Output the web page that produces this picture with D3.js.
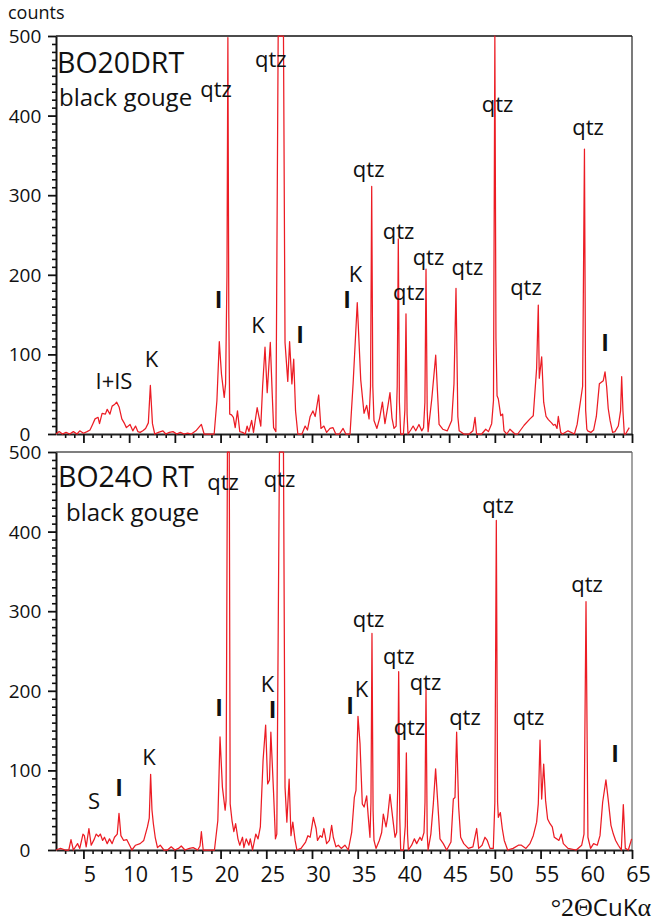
<!DOCTYPE html>
<html><head><meta charset="utf-8">
<script src="https://cdn.jsdelivr.net/npm/d3@7"></script>
<style>
html,body{margin:0;padding:0;background:#fff;}
svg{display:block;}
text{font-family:"Open Sans",sans-serif;fill:#111;}
</style>
</head><body>
<script>
// ---- data (°2θ CuKα vs counts) ----
const topAngles = [2.0,2.35,2.7,3.1,3.5,3.9,4.3,4.6,5.0,5.4,5.72,6.0,6.27,6.6,6.76,7.04,7.4,7.6,7.9,8.14,8.4,8.63,8.9,9.2,9.5,9.7,10.1,10.4,10.7,10.95,11.2,11.5,11.8,12.1,12.32,12.55,12.8,13.2,13.7,14.0,14.4,14.8,15.2,15.6,16.0,16.4,16.8,17.3,17.6,17.9,18.2,18.7,19.3,19.6,19.86,20.1,20.4,20.55,20.7,20.8,20.9,21.0,21.2,21.4,21.6,21.85,22.1,22.4,22.7,22.9,23.1,23.4,23.6,24.0,24.4,24.6,24.86,25.1,25.44,25.65,25.8,26.05,26.3,26.88,27.05,27.35,27.55,27.8,28.0,28.2,28.45,28.9,29.25,29.5,29.8,30.1,30.35,30.73,30.98,31.3,31.6,31.97,32.3,32.6,33.0,33.4,33.7,34.16,34.5,34.95,35.33,35.69,35.98,36.24,36.4,36.53,36.65,36.78,37.1,37.4,37.7,37.98,38.3,38.53,38.75,38.97,39.2,39.32,39.44,39.56,39.7,40.0,40.16,40.28,40.4,40.5,40.8,41.06,41.35,41.7,42.0,42.2,42.35,42.47,42.6,42.7,43.1,43.53,43.9,44.3,44.8,45.28,45.53,45.75,45.95,46.1,46.6,47.2,47.6,47.83,48.0,48.56,49.0,49.3,49.65,49.85,50.0,50.12,50.24,50.38,50.64,50.85,51.0,51.3,51.65,52.2,52.5,53.2,53.84,54.2,54.57,54.75,54.86,55.12,55.34,55.6,55.85,56.2,56.4,56.6,56.8,56.94,57.2,57.4,58.0,58.7,59.0,59.6,59.8,59.93,60.06,60.15,60.5,60.8,61.1,61.43,61.86,62.05,62.23,62.4,62.6,62.88,63.14,63.5,63.75,63.87,64.01,64.16,64.3,64.7,65.0];
const topCounts = [0,3,0,2,0,3,0,4,1,3,5,12,19,21,13,26,25,31,25,35,37,40,34,19,13,8,12,4,10,3,2,4,7,14,61,13,0,2,4,0,2,3,0,2,0,1,0,4,8,12,0,0,0,42,116,75,46,63,200,498,150,25,24,21,8,29,3,2,0,10,3,17,2,33,10,60,109,52,115,50,8,3,500,500,115,66,116,63,94,29,0,0,10,5,22,29,22,49,7,10,2,7,8,0,0,7,0,0,64,165,68,26,36,19,60,311,60,17,7,20,40,13,35,52,20,7,10,60,245,40,0,0,30,151,25,0,5,10,4,12,4,8,40,207,30,3,44,99,12,6,4,17,63,183,22,4,0,0,4,21,0,0,6,3,13,42,500,120,48,44,23,25,4,0,6,0,0,11,19,23,83,162,70,97,40,22,18,14,11,12,7,22,2,0,4,0,12,60,358,30,6,4,2,5,22,63,67,78,59,32,17,2,3,10,29,72,29,0,0,8];

const botAngles = [2.0,2.5,3.0,3.4,3.64,3.9,4.36,4.6,4.95,5.1,5.3,5.6,5.85,6.2,6.4,6.65,6.85,7.1,7.3,7.6,7.85,8.14,8.4,8.7,8.89,9.1,9.4,9.75,10.05,10.3,10.7,11.2,11.6,12.0,12.2,12.35,12.5,12.65,12.85,13.1,13.4,13.8,14.2,14.6,15.0,15.4,15.7,16.1,16.6,17.0,17.5,17.75,17.9,18.1,18.7,19.33,19.7,19.94,20.2,20.5,20.6,20.75,20.95,21.05,21.25,21.45,21.65,21.9,22.1,22.4,22.55,22.8,23.1,23.25,23.5,23.85,24.1,24.35,24.65,24.93,25.15,25.35,25.5,25.8,26.0,26.15,26.44,26.88,27.05,27.25,27.5,27.7,27.9,28.15,28.35,28.8,29.3,29.55,29.8,30.15,30.45,30.6,30.9,31.1,31.3,31.6,31.9,32.15,32.33,32.62,32.88,33.2,33.6,33.97,34.34,34.63,34.81,35.03,35.25,35.5,35.7,35.98,36.16,36.34,36.45,36.56,36.68,36.78,37.0,37.36,37.62,37.8,38.1,38.27,38.53,38.82,39.08,39.26,39.38,39.48,39.6,39.7,40.0,40.2,40.32,40.45,40.54,40.9,41.2,41.45,41.81,42.0,42.25,42.36,42.47,42.6,42.7,43.0,43.27,43.52,43.74,44.0,44.36,44.73,45.2,45.46,45.64,45.82,46.04,46.26,46.6,47.1,47.6,48.01,48.23,48.6,48.92,49.17,49.47,49.83,50.0,50.16,50.3,50.38,50.6,50.81,51.03,51.4,52.0,52.57,52.9,53.4,53.84,54.2,54.57,54.75,54.94,55.12,55.34,55.55,55.77,56.03,56.28,56.5,56.76,57.0,57.27,57.49,58.0,58.9,59.5,59.75,59.97,60.18,60.47,60.8,61.2,61.5,61.79,62.15,62.41,62.7,62.96,63.21,63.5,63.83,64.05,64.27,64.6,64.96];
const botCounts = [0,2,0,0,13,0,8,2,20,18,4,27,6,14,20,17,20,12,16,8,14,8,16,20,46,18,12,13,6,0,6,8,12,29,40,95,50,33,16,3,6,0,0,4,0,2,5,0,2,3,0,5,23,0,0,0,37,142,79,50,62,500,500,58,37,23,33,14,6,16,3,14,6,14,0,20,14,29,113,157,83,88,148,71,14,20,500,500,79,35,89,18,35,12,0,2,10,18,16,41,27,12,18,16,27,8,12,31,16,4,6,2,6,0,22,66,75,168,134,58,54,68,41,16,60,272,50,12,2,12,22,45,29,41,70,41,16,22,80,224,40,0,0,30,122,20,0,6,14,8,16,12,22,60,203,20,0,20,58,102,62,14,8,0,10,64,66,148,54,16,8,2,4,27,2,6,16,12,2,2,60,414,60,41,47,27,12,0,2,6,6,2,8,18,35,58,138,64,108,62,39,33,29,16,14,12,20,8,2,0,6,20,312,16,2,8,6,18,60,88,62,31,20,12,6,0,57,2,0,14];

const yMajorTicks = [0,100,200,300,400,500];
const xMajorTicks = [5,10,15,20,25,30,35,40,45,50,55,60,65];

// annotations: [text, 2θ, counts]
const topLabels = [
  ["qtz",19.5,423],["qtz",25.5,461],["I",19.77,158],["K",12.45,84],["I+IS",8.34,56.5],
  ["K",24.1,127],["I",28.7,114],["qtz",36.2,323],["K",34.76,191],["I",33.83,158],
  ["qtz",39.46,245],["qtz",40.6,168],["qtz",42.74,212],["qtz",47.0,200],["qtz",50.29,404.5],
  ["qtz",53.4,174.6],["qtz",60.19,375.6],["I",62.05,104]
];
const botLabels = [
  ["qtz",20.27,452],["qtz",26.44,456],["I",19.83,168],["K",25.13,198],["I",25.68,166],
  ["K",12.17,107],["I",8.89,68],["S",6.16,51.5],["qtz",36.18,280],["K",35.41,192],["I",34.16,171],
  ["qtz",39.5,234],["qtz",40.66,144.5],["qtz",42.41,201],["qtz",46.73,157],["qtz",50.34,423],
  ["qtz",53.68,157],["qtz",60.08,324],["I",63.14,110.5]
];
const topTitle = ["BO20DRT","black gouge"];
const botTitle = ["BO24O RT","black gouge"];

// ---- drawing ----
const W = 654, H = 924;
const svg = d3.select("body").append("svg").attr("width",W).attr("height",H);
const x = d3.scaleLinear().domain([2,65]).range([56,632]);

function panel(top, bottom, angles, counts, labels, title, titlePos, showXLabels){
  const y = d3.scaleLinear().domain([0,500]).range([bottom, top]).clamp(true);
  const g = svg.append("g");
  g.append("line").attr("x1",x(2)).attr("x2",x(65)).attr("y1",top).attr("y2",top)
    .attr("stroke", showXLabels ? "#555" : "#111").attr("stroke-width",1.5);
  g.append("line").attr("x1",x(65)).attr("x2",x(65)).attr("y1",top).attr("y2",bottom)
    .attr("stroke", showXLabels ? "#666" : "#222").attr("stroke-width",1.2);
  const yMinor = d3.range(0,501,10).filter(v=>v%100!==0);
  g.append("g").attr("transform",`translate(${x(2)},0)`)
    .call(d3.axisLeft(y).tickValues(yMinor).tickSize(4).tickFormat(""))
    .call(a=>{a.select(".domain").remove(); a.selectAll("line").attr("stroke","#111").attr("stroke-width",1.6);});
  const ya = g.append("g").attr("transform",`translate(${x(2)},0)`)
    .call(d3.axisLeft(y).tickValues(yMajorTicks).tickSize(8).tickSizeOuter(0));
  ya.select(".domain").attr("stroke","#111").attr("stroke-width",2);
  ya.selectAll("line").attr("stroke","#111").attr("stroke-width",1.8);
  ya.selectAll("text").attr("text-anchor","middle").attr("x",-31).attr("dy","0.34em")
    .style("font-size","19px").style("font-family","'Open Sans',sans-serif").attr("fill","#111");
  const xMinor = d3.range(3,66,1).filter(v=>v%5!==0);
  g.append("g").attr("transform",`translate(0,${bottom})`)
    .call(d3.axisBottom(x).tickValues(xMinor).tickSize(4).tickFormat(""))
    .call(a=>{a.select(".domain").remove(); a.selectAll("line").attr("stroke","#111").attr("stroke-width",1.6);});
  const xa = g.append("g").attr("transform",`translate(0,${bottom})`)
    .call(d3.axisBottom(x).tickValues(xMajorTicks).tickSize(9).tickSizeOuter(0)
      .tickFormat(showXLabels ? d3.format("d") : ""));
  xa.select(".domain").attr("stroke","#222").attr("stroke-width",2);
  xa.selectAll("line").attr("stroke","#111").attr("stroke-width",1.8);
  xa.selectAll("text").attr("y",32).attr("dy",0).attr("dx",6)
    .style("font-size","21.5px").style("font-family","'Open Sans',sans-serif").attr("fill","#111");
  const pts = angles.map((a,i)=>[a,counts[i]]);
  g.append("path").datum(pts)
    .attr("d", d3.line().x(d=>x(d[0])).y(d=>y(d[1])))
    .attr("fill","none").attr("stroke","#ec1c24").attr("stroke-width",1.25).attr("stroke-linejoin","round");
  g.selectAll("text.lab").data(labels).enter().append("text").attr("class","lab")
    .attr("x",d=>x(d[1])).attr("y",d=>y(d[2])).attr("text-anchor","middle")
    .style("font-size",d=>d[0]==="I"?"23px":"22px")
    .style("font-weight",d=>d[0]==="I"?"700":"400")
    .text(d=>d[0]);
  g.append("text").attr("x",titlePos[0]).attr("y",titlePos[1]).style("font-size","28.5px").text(title[0]);
  g.append("text").attr("x",titlePos[2]).attr("y",titlePos[3]).style("font-size","24px").text(title[1]);
}

panel(36, 434, topAngles, topCounts, topLabels, topTitle, [57,73,59,106], false);
panel(452, 850, botAngles, botCounts, botLabels, botTitle, [58,487,66,521], true);

svg.append("text").attr("x",8).attr("y",19).style("font-size","18px").text("counts");
const xl = svg.append("text").attr("x",651).attr("y",916).attr("text-anchor","end").style("font-size","24px");
xl.append("tspan").style("font-family","'Liberation Serif',serif").style("font-size","26px").text("°2Θ");
xl.append("tspan").text("CuK");
xl.append("tspan").style("font-family","'Liberation Serif',serif").style("font-size","26px").text("α");
</script>
</body></html>
